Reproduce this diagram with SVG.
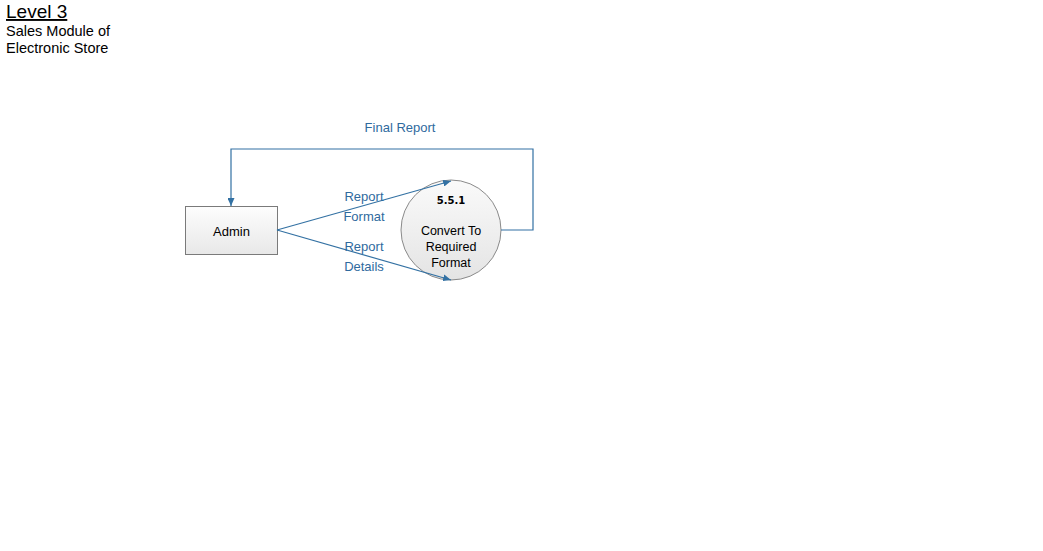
<svg xmlns="http://www.w3.org/2000/svg" width="1043" height="551" viewBox="0 0 1043 551">
<style>
.t{font-family:"Liberation Sans",Arial,sans-serif;fill:#000}
.lbl{font-family:"Liberation Sans",Arial,sans-serif;font-size:13px;fill:#2f6a9e;text-anchor:middle}
.c{fill:none;stroke:#3371a3;stroke-width:1.2}
</style>
<defs>
<linearGradient id="gb" x1="0" y1="0" x2="0" y2="1"><stop offset="0" stop-color="#fdfdfd"/><stop offset="1" stop-color="#e8e8e8"/></linearGradient>
<linearGradient id="gc" x1="0" y1="0" x2="0" y2="1"><stop offset="0" stop-color="#fafafa"/><stop offset="1" stop-color="#e4e4e4"/></linearGradient>
<marker id="ah" markerWidth="9" markerHeight="7" refX="8" refY="3.5" orient="auto" markerUnits="userSpaceOnUse"><path d="M0,0 L8,3.5 L0,7 z" fill="#3371a3"/></marker>
</defs>
<rect width="1043" height="551" fill="#fff"/>
<g id="title">
<text class="t" x="6" y="18" font-size="19" text-decoration="underline">Level 3</text>
<text class="t" x="6" y="36" font-size="14.5">Sales Module of</text>
<text class="t" x="6" y="53" font-size="14.5">Electronic Store</text>
</g>
<g id="admin">
<rect x="185.5" y="206.5" width="92" height="48" fill="url(#gb)" stroke="#7a7a7a"/>
<text class="t" x="231.5" y="236" font-size="13" text-anchor="middle">Admin</text>
</g>
<g id="p551">
<circle cx="451" cy="230" r="50" fill="url(#gc)" stroke="#8a8a8a"/>
<text class="t" x="451" y="204" font-size="10" font-weight="bold" text-anchor="middle" style="font-family:'DejaVu Sans',sans-serif">5.5.1</text>
<text class="t" x="451" y="235" font-size="12.5" text-anchor="middle">Convert To</text>
<text class="t" x="451" y="251" font-size="12.5" text-anchor="middle">Required</text>
<text class="t" x="451" y="267" font-size="12.5" text-anchor="middle">Format</text>
</g>
<g id="connectors">
<polyline class="c" points="501,230 533,230 533,149 231,149 231,206" marker-end="url(#ah)"/>
<line class="c" x1="277" y1="230" x2="451" y2="181" marker-end="url(#ah)"/>
<line class="c" x1="277" y1="230" x2="451" y2="280" marker-end="url(#ah)"/>
<text class="lbl" x="400" y="132">Final Report</text>
<text class="lbl" x="364" y="201">Report</text>
<text class="lbl" x="364" y="221">Format</text>
<text class="lbl" x="364" y="251">Report</text>
<text class="lbl" x="364" y="271">Details</text>
</g>
</svg>
